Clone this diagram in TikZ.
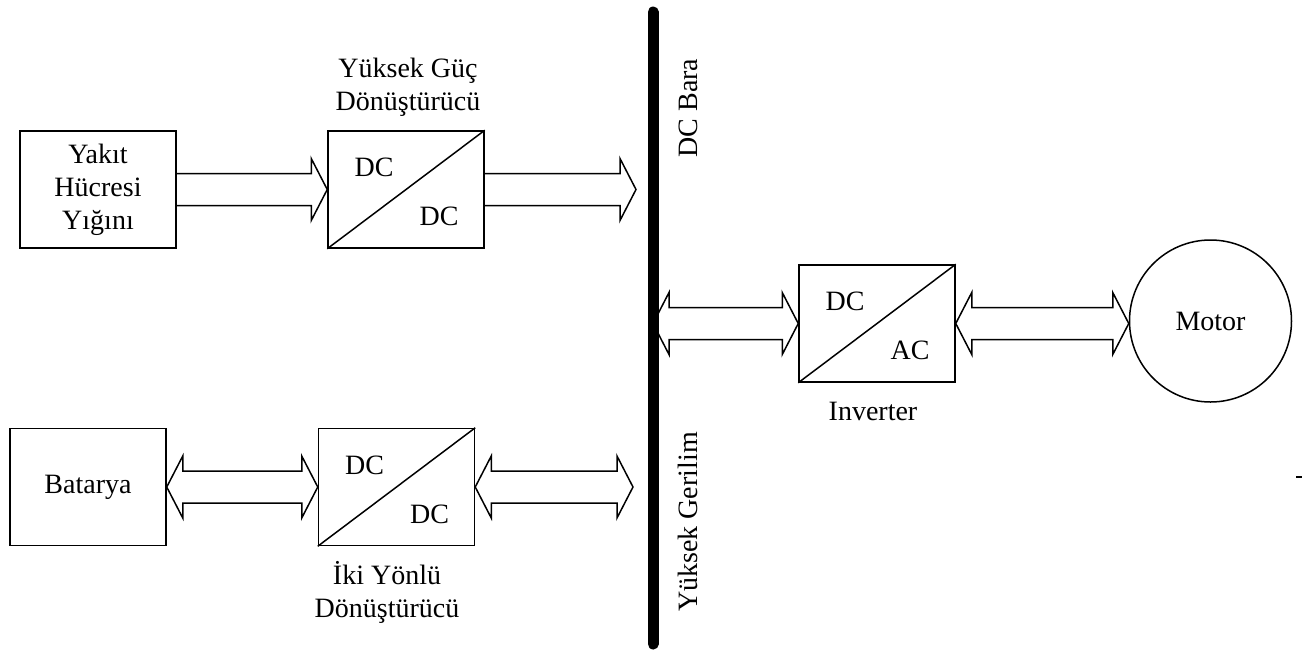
\documentclass[tikz,border=0pt]{standalone}
\usepackage{fontspec}
\setmainfont{Liberation Serif}
\usepackage{tikz}
\usetikzlibrary{calc}
\newcommand{\shaftw}{8pt}
\newcommand{\headw}{15.5pt}
\newcommand{\headl}{8pt}
% wide hollow arrow, tail left open on the box edge
\newcommand{\fatarrow}[2]{%
  \draw[flow] let \p1=(#1), \p2=(#2) in
    (\x1,\y1+\shaftw) -- (\x2-\headl,\y1+\shaftw) -- (\x2-\headl,\y1+\headw)
    -- (\x2,\y1) -- (\x2-\headl,\y1-\headw) -- (\x2-\headl,\y1-\shaftw) -- (\x1,\y1-\shaftw);}
% wide hollow arrow with two heads
\newcommand{\twoarrow}[2]{%
  \draw[flow] let \p1=(#1), \p2=(#2) in
    (\x1,\y1) -- (\x1+\headl,\y1+\headw) -- (\x1+\headl,\y1+\shaftw) -- (\x2-\headl,\y1+\shaftw)
    -- (\x2-\headl,\y1+\headw) -- (\x2,\y1) -- (\x2-\headl,\y1-\headw) -- (\x2-\headl,\y1-\shaftw)
    -- (\x1+\headl,\y1-\shaftw) -- (\x1+\headl,\y1-\headw) -- cycle;}

\begin{document}
\begin{tikzpicture}[x=0.5pt, y=-0.5pt,
  every node/.style={font=\fontsize{14}{16.5}\selectfont},
  box/.style={draw, line width=0.75pt, minimum width=78pt, minimum height=58.5pt,
              inner sep=0pt, align=center},
  flow/.style={line width=0.75pt, line join=miter},
  lbl/.style={align=center}
]
  \useasboundingbox (0,0) rectangle (1302,654);

  \node[box] (fc)    at (98,189.5)  {Yakıt\\Hücresi\\Yığını};
  \node[box] (dcdc1) at (406,189.5) {};
  \node[box] (bat)   at (88,487)    {Batarya};
  \node[box] (dcdc2) at (396.5,487) {};
  \node[box] (inv)   at (877,323.5) {};
  \node[draw, circle, line width=0.75pt, minimum size=81pt, inner sep=0pt]
    (motor) at (1210.5,321) {Motor};

  \foreach \c in {dcdc1, dcdc2, inv}
    \draw[line width=0.75pt] (\c.south west) -- (\c.north east);

  \node (dcdc1a) at ($(dcdc1)+(-32,-22)$) {DC};
  \node (dcdc1b) at ($(dcdc1)+(33,27)$)   {DC};
  \node (dcdc2a) at ($(dcdc2)+(-32,-22)$) {DC};
  \node (dcdc2b) at ($(dcdc2)+(33,27)$)   {DC};
  \node (inva)   at ($(inv)+(-32,-22)$)   {DC};
  \node (invb)   at ($(inv)+(33,27)$)     {AC};

  \node[lbl] (dcdc1lbl) at (408,87)  {Yüksek Güç\\Dönüştürücü};
  \node[lbl] (dcdc2lbl) at (387,592) {İki Yönlü\\Dönüştürücü};
  \node[lbl] (invlbl)   at (873,411) {Inverter};

  % DC bus
  \coordinate (bustop) at (653,12);
  \coordinate (busbot) at (653,644);
  \draw[line width=5.5pt, line cap=round] (bustop) -- (busbot);
  \node[rotate=90] (bustxt1) at (688,108) {DC Bara};
  \node[rotate=90] (bustxt2) at (688,522) {Yüksek Gerilim};

  \coordinate (fcbus)  at (636,189.5);
  \coordinate (batbus) at (633,487);
  \coordinate (invbus) at (653,323.5);

  \fatarrow{fc.east}{dcdc1.west}
  \fatarrow{dcdc1.east}{fcbus}
  \twoarrow{bat.east}{dcdc2.west}
  \twoarrow{dcdc2.east}{batbus}
  \twoarrow{invbus}{inv.west}
  \twoarrow{inv.east}{motor.west}

  \draw[line width=1pt] (1296,477) -- (1302,477);
\end{tikzpicture}
\end{document}
